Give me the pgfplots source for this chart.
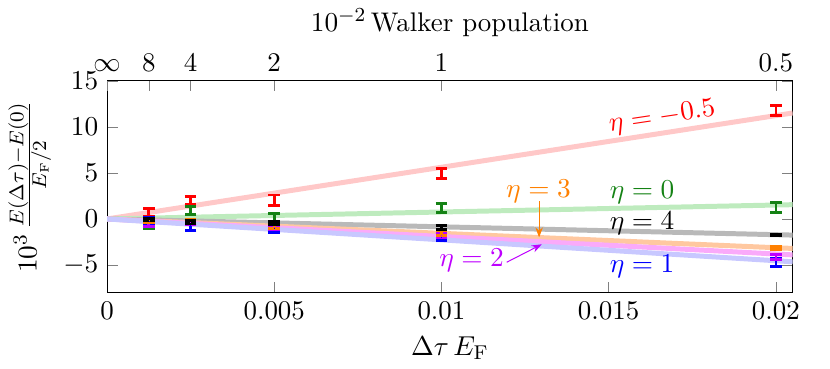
\documentclass[border=0pt]{standalone}
\usepackage{pgfplots}
\pgfplotsset{compat=1.18}
\usetikzlibrary{arrows.meta}
\definecolor{dkgreen}{RGB}{20,130,20}
\definecolor{myorange}{RGB}{255,128,0}
\definecolor{mypurple}{RGB}{190,0,255}
\definecolor{lred}{RGB}{255,200,200}
\definecolor{lgreen}{RGB}{190,235,190}
\definecolor{lgray}{RGB}{185,185,185}
\definecolor{lorange}{RGB}{255,200,160}
\definecolor{lpurple}{RGB}{250,170,250}
\definecolor{lblue}{RGB}{200,200,255}

\pgfplotsset{
  ebar/.style={
    mark=-, mark size=0.1pt,
    only marks,
    error bars/y dir=both, error bars/y explicit,
    error bars/error mark=-,
    error bars/error mark options={rotate=90, line width=1.2pt, mark size=2.3pt},
    error bars/error bar style={line width=1.1pt}
  },
  fitline/.style={line width=2pt, no marks}
}

\begin{document}
\begin{tikzpicture}[font=\fontsize{10.8}{13}\selectfont]
\begin{axis}[
    name=main,
    scale only axis,
    width=275pt, height=85pt,
    xmin=0, xmax=0.0205,
    ymin=-8, ymax=15,
    scaled x ticks=false,
    xtick={0,0.005,0.01,0.015,0.02},
    xticklabels={0,0.005,0.01,0.015,0.02},
    xtick pos=bottom,
    ytick={-5,0,5,10,15},
    ytick pos=both,
    tick align=inside,
    xlabel={$\Delta\tau\,E_{\mathrm{F}}$},
    ylabel={$10^3\,\frac{E(\Delta\tau)-E(0)}{E_{\mathrm{F}}/2}$},
    ylabel style={yshift=-2pt},
    clip=true,
]
% fitted lines
\addplot[fitline, lred]    coordinates {(0,0) (0.0205,11.5)};
\addplot[fitline, lgreen]  coordinates {(0,0) (0.0205,1.55)};
\addplot[fitline, lgray]   coordinates {(0,0) (0.0205,-1.75)};
\addplot[fitline, lorange] coordinates {(0,0) (0.0205,-3.2)};
\addplot[fitline, lpurple] coordinates {(0,0) (0.0205,-3.9)};
\addplot[fitline, lblue]   coordinates {(0,0) (0.0205,-4.65)};

% data, eta = -0.5
\addplot[ebar, red] coordinates {
  (0.00125,0.72) +- (0,0.4)
  (0.0025,2.0)   +- (0,0.47)
  (0.005,2.05)   +- (0,0.55)
  (0.01,4.93)    +- (0,0.5)
  (0.02,11.75)   +- (0,0.55)
};
% eta = 0
\addplot[ebar, dkgreen] coordinates {
  (0.00125,-0.6) +- (0,0.45)
  (0.0025,0.9)   +- (0,0.4)
  (0.005,0.13)   +- (0,0.5)
  (0.01,1.18)    +- (0,0.52)
  (0.02,1.27)    +- (0,0.52)
};
% eta = 1
\addplot[ebar, blue] coordinates {
  (0.00125,-0.3) +- (0,0.45)
  (0.0025,-0.7)  +- (0,0.5)
  (0.005,-1.0)   +- (0,0.45)
  (0.01,-2.0)    +- (0,0.35)
  (0.02,-4.7)    +- (0,0.43)
};
% eta = 2
\addplot[ebar, mypurple] coordinates {
  (0.00125,-0.6) +- (0,0.25)
  (0.0025,-0.35) +- (0,0.25)
  (0.005,-0.9)   +- (0,0.2)
  (0.01,-1.8)    +- (0,0.2)
  (0.02,-4.1)    +- (0,0.25)
};
% eta = 3
\addplot[ebar, myorange] coordinates {
  (0.00125,-0.2) +- (0,0.2)
  (0.0025,-0.3)  +- (0,0.2)
  (0.005,-0.85)  +- (0,0.2)
  (0.01,-1.55)   +- (0,0.25)
  (0.02,-3.15)   +- (0,0.17)
};
% eta = 4
\addplot[ebar, black] coordinates {
  (0.00125,-0.05) +- (0,0.15)
  (0.0025,-0.3)   +- (0,0.15)
  (0.005,-0.45)   +- (0,0.2)
  (0.01,-0.95)    +- (0,0.2)
  (0.02,-1.74)    +- (0,0.1)
};

% labels
\node[red, rotate=8.5] at (axis cs:0.0166,11.0) {$\eta=-0.5$};
\node[dkgreen] at (axis cs:0.0160,2.9) {$\eta=0$};
\node[black] at (axis cs:0.0160,-0.45) {$\eta=4$};
\node[blue] at (axis cs:0.0160,-5.15) {$\eta=1$};
\node[myorange] at (axis cs:0.0129,2.95) {$\eta=3$};
\draw[myorange, -{Stealth[length=4pt]}] (axis cs:0.01292,1.9) -- (axis cs:0.01292,-2.0);
\node[mypurple] at (axis cs:0.0109,-4.5) {$\eta=2$};
\draw[mypurple, -{Stealth[length=4pt]}] (axis cs:0.01195,-4.7) -- (axis cs:0.0130,-2.75);
\end{axis}

\begin{axis}[
    scale only axis,
    width=275pt, height=85pt,
    xmin=0, xmax=0.0205,
    ymin=-8, ymax=15,
    scaled x ticks=false,
    axis x line*=top,
    axis y line=none,
    tick align=inside,
    xtick={0,0.00125,0.0025,0.005,0.01,0.02},
    xticklabels={$\infty$,8,4,2,1,0.5},
    xlabel={$10^{-2}$\,Walker population},
]
\end{axis}
% white margin on the right, as in the reference
\path (main.south east) ++(15pt,0) coordinate (rmargin);
\path (rmargin) -- ++(0,1pt);
\end{tikzpicture}
\end{document}
